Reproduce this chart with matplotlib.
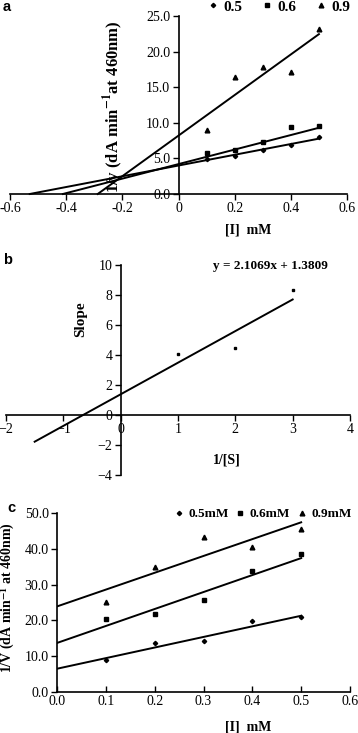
import numpy as np
import matplotlib
matplotlib.use("Agg")
import matplotlib.pyplot as plt

plt.rcParams['font.family'] = ['Liberation Serif', 'DejaVu Serif']
plt.rcParams['mathtext.fontset'] = 'stix'
plt.rcParams['font.size'] = 10

# panel a: 1/v vs [I] at three substrate levels
conc_a = ['0.5', '0.6', '0.9']
inh_a = [0.1, 0.2, 0.3, 0.4, 0.5]
v05_a = [4.9, 5.4, 6.2, 6.95, 7.95]
v06_a = [5.8, 6.2, 7.35, 9.4, 9.5]
v09_a = [9.0, 16.5, 17.9, 17.1, 23.2]
slope_a = [7.55, 10.2, 28.5]
icpt_a = [4.0, 4.2, 8.2]

# panel b: replot of slopes
inv_s = [1, 2, 3]
slopes_b = [4.1, 4.45, 8.3]
fit_b = (2.1069, 1.3809)

# panel c
conc_c = ['0.5mM', '0.6mM', '0.9mM']
inh_c = [0.1, 0.2, 0.3, 0.4, 0.5]
v05_c = [8.9, 13.7, 14.3, 19.8, 20.9]
v06_c = [20.5, 21.9, 25.8, 33.7, 38.5]
v09_c = [25.1, 34.8, 43.3, 40.5, 45.6]
slope_c = [29.6, 47.4, 47.0]
icpt_c = [6.5, 13.7, 23.9]

markers = ['D', 's', '^']
msizes = [2.2, 3.4, 3.4]

fig = plt.figure(figsize=(3.58, 7.33), dpi=100)
W, H = 358.0, 733.0

def box(x0, y0, x1, y1):
    return [x0 / W, 1 - y1 / H, (x1 - x0) / W, (y1 - y0) / H]

def style(ax):
    for s in ['top', 'right']:
        ax.spines[s].set_visible(False)
    for s in ['left', 'bottom']:
        ax.spines[s].set_linewidth(1.2)
    ax.tick_params(length=4, width=1.0, pad=2, labelsize=10)

# ---- a ----
ax = fig.add_axes(box(10, 16, 347, 194))
style(ax)
ax.spines['left'].set_position(('data', 0))
ax.spines['bottom'].set_position(('data', 0))
ax.set_xlim(-0.6, 0.6)
ax.set_ylim(0, 25)
ax.set_xticks([-0.6, -0.4, -0.2, 0, 0.2, 0.4, 0.6])
ax.set_xticklabels(['-0.6', '-0.4', '-0.2', '0', '0.2', '0.4', '0.6'])
ax.set_yticks([0, 5, 10, 15, 20, 25])
ax.set_yticklabels(['%.1f' % v for v in [0, 5, 10, 15, 20, 25]])
handles = []
for i, ys in enumerate([v05_a, v06_a, v09_a]):
    h, = ax.plot(inh_a, ys, linestyle='none', marker=markers[i], color='black',
                 markersize=msizes[i], label=conc_a[i])
    handles.append(h)
    x0 = -icpt_a[i] / slope_a[i]
    xs = np.array([x0, 0.5])
    ax.plot(xs, icpt_a[i] + slope_a[i] * xs, color='black', lw=1.4, clip_on=False)
ax.set_ylabel('1/v (dA min$^{\\mathbf{-1}}$at 460nm)', fontweight='bold', fontsize=12)
ax.yaxis.set_label_coords(0.34, 0.49)
ax.set_xlabel('[I]  mM', fontweight='bold', fontsize=10)
ax.xaxis.set_label_coords(0.706, -0.165)
fig.legend(handles=handles, loc='center right', bbox_to_anchor=(358 / W, 1 - 7 / H),
           ncol=3, frameon=False, handlelength=0.6, handletextpad=0.4,
           columnspacing=1.3, prop={'weight': 'bold', 'size': 11}, borderpad=0)

# ---- b ----
ax = fig.add_axes(box(6, 265, 350, 475))
style(ax)
ax.spines['left'].set_position(('data', 0))
ax.spines['bottom'].set_position(('data', 0))
ax.set_xlim(-2, 4)
ax.set_ylim(-4, 10)
ax.set_xticks(range(-2, 5))
ax.set_yticks(range(-4, 11, 2))
ax.plot(inv_s, slopes_b, linestyle='none', marker='s', markersize=1.5, color='black')
xs = np.array([-1.5, 3.0])
ax.plot(xs, fit_b[0] * xs + fit_b[1], color='black', lw=1.4)
ax.text(270 / W, 1 - 266 / H, 'y = %.4fx + %.4f' % fit_b, transform=fig.transFigure,
        ha='center', va='center', fontweight='bold', fontsize=9.5)
ax.set_ylabel('Slope', fontweight='bold', fontsize=11)
ax.yaxis.set_label_coords(0.235, 0.74)
ax.set_xlabel('1/[S]', fontweight='bold', fontsize=10)
ax.xaxis.set_label_coords(0.643, 0.10)

# ---- c ----
ax = fig.add_axes(box(57, 513, 350, 692))
style(ax)
ax.set_xlim(0, 0.6)
ax.set_ylim(0, 50)
ax.set_xticks([0, 0.1, 0.2, 0.3, 0.4, 0.5, 0.6])
ax.set_xticklabels(['%.1f' % v for v in [0, 0.1, 0.2, 0.3, 0.4, 0.5, 0.6]])
ax.set_yticks([0, 10, 20, 30, 40, 50])
ax.set_yticklabels(['%.1f' % v for v in [0, 10, 20, 30, 40, 50]])
ax.tick_params(axis='x', direction='in')
handles = []
for i, ys in enumerate([v05_c, v06_c, v09_c]):
    h, = ax.plot(inh_c, ys, linestyle='none', marker=markers[i], color='black',
                 markersize=msizes[i], label=conc_c[i])
    handles.append(h)
    xs = np.array([0.0, 0.5])
    ax.plot(xs, icpt_c[i] + slope_c[i] * xs, color='black', lw=1.4)
ax.set_ylabel('1/V (dA min$^{\\mathbf{-1}}$ at 460nm)', fontweight='bold', fontsize=10)
ax.yaxis.set_label_coords(-0.137, 0.53)
ax.set_xlabel('[I]  mM', fontweight='bold', fontsize=10)
ax.xaxis.set_label_coords(0.652, -0.16)
fig.legend(handles=handles, loc='center right', bbox_to_anchor=(358 / W, 1 - 514 / H),
           ncol=3, frameon=False, handlelength=0.6, handletextpad=0.4,
           columnspacing=0.6, prop={'weight': 'bold', 'size': 9.5}, borderpad=0)

# panel letters
for lab, (px, py) in zip(['a', 'b', 'c'], [(7, 7), (8, 260), (11, 508)]):
    fig.text(px / W, 1 - py / H, lab, ha='center', va='center', fontsize=10.5,
             fontweight='bold', family='Liberation Sans')

fig.savefig('out.png', dpi=100)
